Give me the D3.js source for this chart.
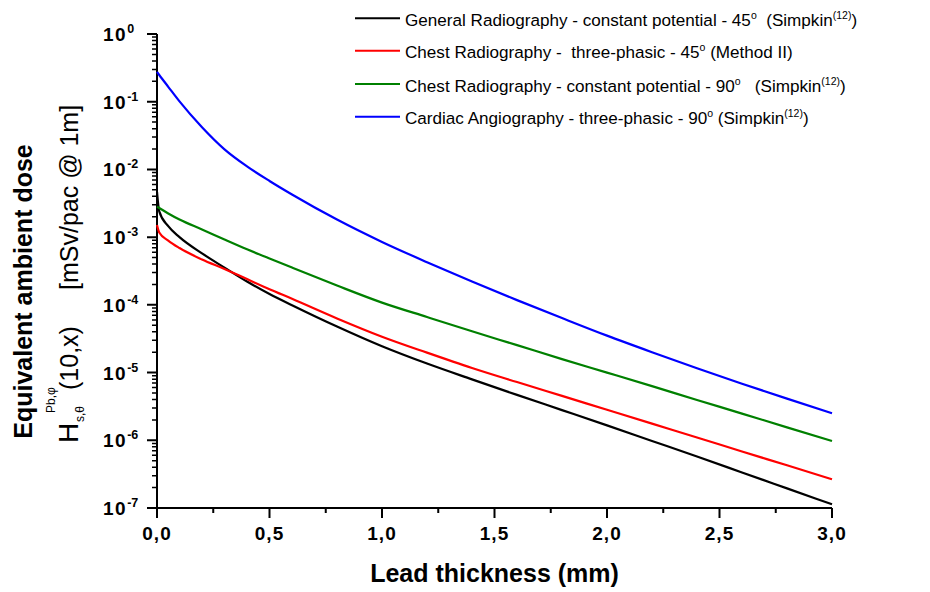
<!DOCTYPE html>
<html><head><meta charset="utf-8">
<script src="https://cdn.jsdelivr.net/npm/d3@7"></script>
<style>
body{margin:0;background:#fff}
svg{display:block}
text{font-family:"Liberation Sans",Arial,sans-serif;white-space:pre}
</style>
</head><body>
<svg id="chart" width="930" height="592"></svg>
<script>
// ---- data ----
const thickness = [0, 0.01, 0.05, 0.1, 0.2, 0.3, 0.4, 0.5, 0.6, 0.8, 1.0, 1.2, 1.4, 1.6, 1.8, 2.0, 2.2, 2.4, 2.6, 2.8, 3.0];
const generalRad45 = [4.68e-3, 2.4e-3, 1.45e-3, 1.0e-3, 5.75e-4, 3.55e-4, 2.21e-4, 1.445e-4, 9.89e-5, 4.79e-5, 2.45e-5, 1.36e-5, 7.94e-6, 4.68e-6, 2.79e-6, 1.66e-6, 9.77e-7, 5.75e-7, 3.35e-7, 1.95e-7, 1.135e-7];
const chestThree45 = [1.51e-3, 1.17e-3, 8.9e-4, 6.9e-4, 4.68e-4, 3.39e-4, 2.40e-4, 1.70e-4, 1.23e-4, 6.31e-5, 3.39e-5, 1.97e-5, 1.17e-5, 7.24e-6, 4.52e-6, 2.82e-6, 1.76e-6, 1.10e-6, 6.84e-7, 4.27e-7, 2.66e-7];
const chestConst90 = [2.82e-3, 2.69e-3, 2.24e-3, 1.82e-3, 1.30e-3, 9.23e-4, 6.61e-4, 4.84e-4, 3.55e-4, 1.93e-4, 1.08e-4, 6.61e-5, 4.07e-5, 2.54e-5, 1.58e-5, 1.0e-5, 6.31e-6, 3.94e-6, 2.48e-6, 1.55e-6, 9.77e-7];
const cardiacThree90 = [0.275, 0.248, 0.166, 0.101, 0.042, 0.0198, 0.0111, 6.76e-3, 4.27e-3, 1.82e-3, 8.5e-4, 4.27e-4, 2.21e-4, 1.175e-4, 6.38e-5, 3.51e-5, 2.0e-5, 1.16e-5, 6.84e-6, 4.12e-6, 2.51e-6];
const seriesColors = ["#000000", "#ff0000", "#008000", "#0000ff"];
const legendParts = [
  [["General Radiography - constant potential - 45", 0], ["o", 1], ["  (Simpkin", 0], ["(12)", 1], [")", 0]],
  [["Chest Radiography -  three-phasic - 45", 0], ["o", 1], [" (Method II)", 0]],
  [["Chest Radiography - constant potential - 90", 0], ["o", 1], ["   (Simpkin", 0], ["(12)", 1], [")", 0]],
  [["Cardiac Angiography - three-phasic - 90", 0], ["o", 1], [" (Simpkin", 0], ["(12)", 1], [")", 0]]
];
const xTickValues = [0, 0.5, 1, 1.5, 2, 2.5, 3];
const xTickLabels = ["0,0", "0,5", "1,0", "1,5", "2,0", "2,5", "3,0"];
const xMinorTicks = [0.25, 0.75, 1.25, 1.75, 2.25, 2.75];
const yTickExponents = [0, -1, -2, -3, -4, -5, -6, -7];

const series = [generalRad45, chestThree45, chestConst90, cardiacThree90];

// ---- chart ----
const svg = d3.select("#chart");
const x = d3.scaleLinear().domain([0, 3]).range([157, 832]);
const y = d3.scaleLog().domain([1e-7, 1]).range([508, 34]);
const x0 = x(0), y0 = y(1e-7);

const yMinor = [];
for (let e = -7; e < 0; e++) for (let k = 2; k <= 9; k++) yMinor.push(k * Math.pow(10, e));

// axes as paths
const pMajor = d3.path();
pMajor.moveTo(x0, y(1)); pMajor.lineTo(x0, y0); pMajor.lineTo(x(3), y0);
xTickValues.forEach(v => { pMajor.moveTo(x(v), y0); pMajor.lineTo(x(v), y0 + 10); });
xMinorTicks.forEach(v => { pMajor.moveTo(x(v), y0); pMajor.lineTo(x(v), y0 + 5); });
yTickExponents.forEach(e => { const yy = y(Math.pow(10, e)); pMajor.moveTo(x0 - 10, yy); pMajor.lineTo(x0, yy); });
svg.append("path").attr("d", pMajor.toString()).attr("fill", "none").attr("stroke", "#000").attr("stroke-width", 2);

const pMinor = d3.path();
yMinor.forEach(v => { const yy = y(v); pMinor.moveTo(x0 - 5, yy); pMinor.lineTo(x0, yy); });
svg.append("path").attr("d", pMinor.toString()).attr("fill", "none").attr("stroke", "#000").attr("stroke-width", 1.5);

// x tick labels
svg.append("g").selectAll("text").data(xTickValues).join("text")
  .attr("x", d => x(d)).attr("y", 540)
  .attr("text-anchor", "middle").attr("font-size", 19).attr("font-weight", "bold")
  .attr("letter-spacing", 1)
  .text((d, i) => xTickLabels[i]);

// y tick labels
const yl = svg.append("g").selectAll("text").data(yTickExponents).join("text")
  .attr("x", 103).attr("y", d => y(Math.pow(10, d)) + 7)
  .attr("font-size", 19).attr("font-weight", "bold").attr("letter-spacing", 1.5);
yl.append("tspan").text("10");
yl.append("tspan").attr("font-size", 12.5).attr("dy", -8).attr("letter-spacing", 0).text(d => String(d));

// curves
const line = d3.line().x((d, i) => x(thickness[i])).y(d => y(d)).curve(d3.curveMonotoneX);
svg.append("g").selectAll("path").data(series).join("path")
  .attr("d", d => line(d)).attr("fill", "none")
  .attr("stroke", (d, i) => seriesColors[i]).attr("stroke-width", 2.2)
  .attr("stroke-linejoin", "round");

// legend
const legendY = [18.3, 50.7, 84, 116.7];
const lg = svg.append("g").selectAll("g").data(legendParts).join("g")
  .attr("transform", (d, i) => `translate(0,${legendY[i]})`);
lg.append("line").attr("x1", 355).attr("x2", 400).attr("y1", 0).attr("y2", 0)
  .attr("stroke", (d, i) => seriesColors[i]).attr("stroke-width", 2);
const lt = lg.append("text").attr("x", 405).attr("y", 7.5).attr("font-size", 17.1).attr("fill", "#000");
lt.each(function(parts) {
  const t = d3.select(this);
  let prevSup = false;
  parts.forEach(([s, sup]) => {
    const ts = t.append("tspan").text(s);
    if (sup) { ts.attr("font-size", 10.5).attr("dy", -7); prevSup = true; }
    else if (prevSup) { ts.attr("dy", 7); prevSup = false; }
  });
});

// axis titles
svg.append("text").attr("x", 494.5).attr("y", 582).attr("text-anchor", "middle")
  .attr("font-size", 25).attr("font-weight", "bold").text("Lead thickness (mm)");

svg.append("text").attr("transform", "translate(32,291.5) rotate(-90)")
  .attr("text-anchor", "middle").attr("font-size", 25).attr("font-weight", "bold")
  .text("Equivalent ambient dose");

const t2 = svg.append("text").attr("transform", "translate(78,443) rotate(-90)").attr("font-size", 25);
t2.append("tspan").attr("x", 0).attr("y", 0).attr("font-size", 28).text("H");
t2.append("tspan").attr("x", 21).attr("y", 6).attr("font-size", 12).text("s,θ");
t2.append("tspan").attr("x", 30).attr("y", -23).attr("font-size", 12).text("Pb,φ");
t2.append("tspan").attr("x", 53).attr("y", 0).text("(10,x)");
t2.append("tspan").attr("x", 153).attr("y", 0).text("[mSv/pac @ 1m]");
</script>
</body></html>
